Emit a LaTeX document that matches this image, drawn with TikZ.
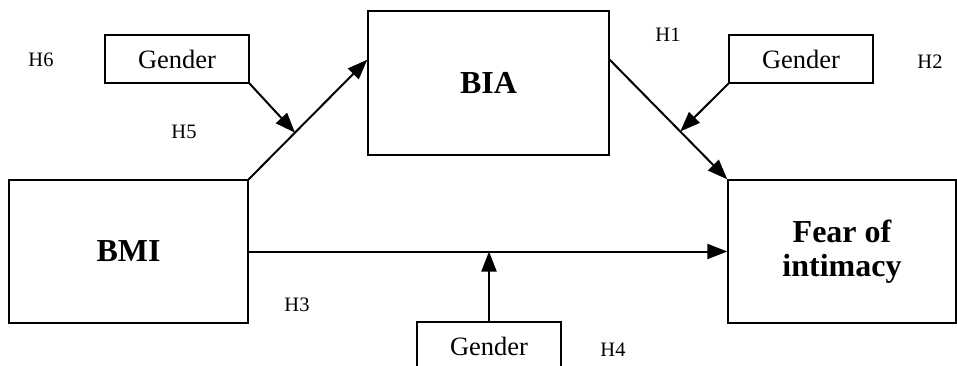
\documentclass[tikz,border=0pt]{standalone}
\usepackage{fontspec}
\setmainfont{Liberation Serif}
\usepackage{tikz}
\usetikzlibrary{arrows.meta, calc}

\tikzset{
  var/.style={draw, line width=1.4pt, font=\fontsize{32}{34}\selectfont\bfseries, align=center, inner sep=0pt},
  gbox/.style={draw, line width=1.4pt, minimum width=144pt, minimum height=48pt, font=\fontsize{26.5}{30}\selectfont, inner sep=0pt},
  hyp/.style={font=\fontsize{20.5}{24}\selectfont},
  link/.style={line width=2pt, -{Triangle[length=20pt, width=15pt]}}
}

\begin{document}
\begin{tikzpicture}[x=1pt, y=-1pt]
  \useasboundingbox (0, 0) rectangle (957, 366);

  % main variables
  \node[var, minimum width=239pt, minimum height=143pt] (bmi) at (128.5, 251.5) {BMI};
  \node[var, minimum width=241pt, minimum height=144pt] (bia) at (488.5, 83) {BIA};
  \node[var, minimum width=228pt, minimum height=143pt] (fear) at (842, 251.5) {Fear of\\intimacy};

  % moderators
  \node[gbox] (gl) at (177, 59) {Gender};
  \node[gbox] (gr) at (801, 59) {Gender};
  \node[gbox] (gb) at (489, 346) {Gender};

  % hypotheses
  \node[hyp] (h6) at (41, 60) {H6};
  \node[hyp] (h5) at (184, 132) {H5};
  \node[hyp] (h1) at (668, 35) {H1};
  \node[hyp] (h2) at (930, 62) {H2};
  \node[hyp] (h3) at (297, 305) {H3};
  \node[hyp] (h4) at (613, 350) {H4};

  \coordinate (biain) at ($(bia.north west)!0.34!(bia.south west)$);
  \coordinate (biaout) at ($(bia.north east)!0.34!(bia.south east)$);
  \coordinate (m5) at ($(bmi.north east)!0.39!(biain)$);
  \coordinate (m2) at ($(biaout)!0.6!(fear.north west)$);
  \coordinate (m4) at (gb.north |- bmi.east);

  \draw[link] (bmi.north east) -- (biain);
  \draw[link] (biaout) -- (fear.north west);
  \draw[link] (bmi.east) -- (fear.west);

  \draw[link] (gl.south east) -- (m5);
  \draw[link] (gr.south west) -- (m2);
  \draw[link] (gb.north) -- (m4);
\end{tikzpicture}
\end{document}
